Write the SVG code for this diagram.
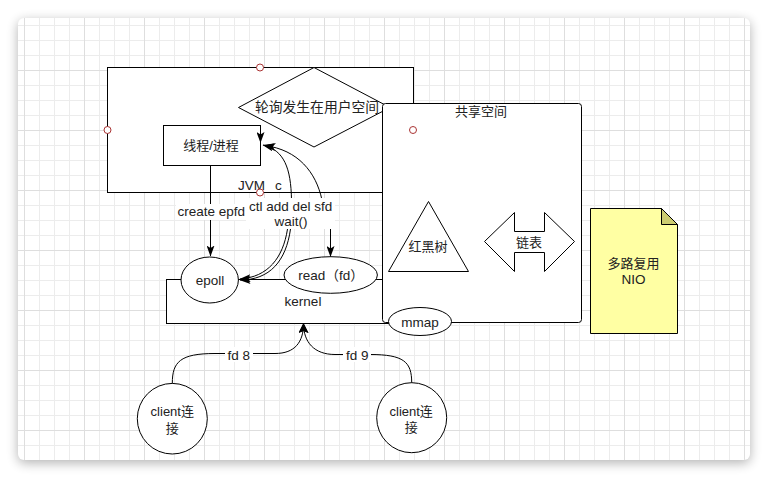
<svg xmlns="http://www.w3.org/2000/svg" width="768" height="477" viewBox="0 0 768 477">
<style>
.ln{fill:none;stroke:#000;stroke-width:1}
.sh{fill:#fff;stroke:#000;stroke-width:1}
.t{font-family:"Liberation Sans","Noto Sans CJK SC",sans-serif;font-size:13px;fill:#222;text-anchor:middle}
.l{font-size:13.5px}
.hd{fill:#fff;stroke:#a33;stroke-width:1}
.bg{fill:#fff;stroke:none}
</style>
<defs>
<pattern id="grid" patternUnits="userSpaceOnUse" x="24" y="10" width="60" height="60">
<path d="M15.5 0V60M30.5 0V60M45.5 0V60M0 15.5H60M0 30.5H60M0 45.5H60" stroke="#ececec" fill="none"/>
<path d="M0.5 0V60M0 0.5H60" stroke="#dedede" fill="none"/>
</pattern>
<filter id="blur" x="-10%" y="-10%" width="120%" height="125%">
<feGaussianBlur stdDeviation="6"/>
</filter>
<marker id="arr" viewBox="0 0 11 8" refX="10.5" refY="4" markerWidth="11" markerHeight="8" markerUnits="userSpaceOnUse" orient="auto">
<path d="M0,0 L11,4 L0,8 L2.5,4 Z" fill="#000"/>
</marker>
<marker id="arr2" viewBox="0 0 10 10" refX="9.5" refY="5" markerWidth="10" markerHeight="10" markerUnits="userSpaceOnUse" orient="auto">
<path d="M0,0 L10,5 L0,10 L2,5 Z" fill="#000"/>
</marker>
</defs>
<rect width="768" height="477" fill="#fff"/>
<rect x="18" y="21" width="732" height="442" rx="6" fill="#000" opacity="0.3" filter="url(#blur)"/>
<rect x="18" y="18" width="732" height="442" rx="6" fill="#fff"/>
<rect x="18" y="18" width="732" height="442" rx="6" fill="url(#grid)"/>

<g id="jvm">
<rect class="sh" x="107.5" y="67.5" width="306" height="125"/>
<text class="t l" x="238" y="190" style="text-anchor:start">JVM <tspan x="275">c</tspan></text>
</g>
<g id="polling">
<polygon class="sh" points="314,67.5 390,107.5 314,147 238.5,107.5"/>
<text class="t" x="317" y="112" style="font-size:13.8px">轮询发生在用户空间</text>
</g>
<g id="thread">
<rect class="sh" x="163.5" y="125.5" width="97" height="40"/>
<text class="t" x="211" y="150">线程/进程</text>
</g>
<g id="kernel">
<rect class="sh" x="166.5" y="279.5" width="230" height="44"/>
<text class="t l" x="303" y="306">kernel</text>
</g>
<g id="epoll">
<ellipse class="sh" cx="209.7" cy="280" rx="28.7" ry="23"/>
<text class="t l" x="210" y="284.5">epoll</text>
</g>
<g id="read">
<ellipse class="sh" cx="330.7" cy="275" rx="46.7" ry="18.3"/>
<text class="t l" x="331" y="280">read（fd）</text>
</g>
<g id="shared">
<rect class="sh" x="382.5" y="103.5" width="199" height="219" rx="3"/>
<text class="t" x="481" y="115.5">共享空间</text>
</g>
<g id="rbtree">
<polygon class="sh" points="428.5,201.5 468.5,271.5 388.5,271.5"/>
<text class="t" x="428" y="250.5">红黑树</text>
</g>
<g id="list">
<polygon class="sh" points="484.5,241.5 514.5,212.5 514.5,231.5 544.5,231.5 544.5,212.5 574.5,241.5 544.5,271.5 544.5,252.5 514.5,252.5 514.5,271.5"/>
<text class="t" x="529" y="247">链表</text>
</g>
<g id="mmap">
<ellipse class="sh" cx="420" cy="321.5" rx="31.5" ry="14"/>
<text class="t l" x="420" y="327">mmap</text>
</g>
<g id="note">
<path d="M590.5,208.5 H661.5 L677.5,224.5 V333.5 H590.5 Z" fill="#ffffa3" stroke="#000"/>
<path d="M661.5,208.5 V224.5 H677.5 Z" fill="#cccc70" stroke="#000"/>
<text class="t" x="633.5" y="267.5">多路复用</text>
<text class="t l" x="633.5" y="283.5">NIO</text>
</g>
<g id="client1">
<ellipse class="sh" cx="172.3" cy="418.7" rx="35" ry="35.3"/>
<text class="t" x="172.3" y="416">client连</text>
<text class="t" x="172.3" y="433">接</text>
</g>
<g id="client2">
<ellipse class="sh" cx="411.7" cy="417.7" rx="35" ry="35"/>
<text class="t" x="411.2" y="415.5">client连</text>
<text class="t" x="411.2" y="432">接</text>
</g>

<g id="connectors">
<path class="ln" d="M210.5,166 V256" marker-end="url(#arr)"/>
<rect class="bg" x="176" y="204" width="71" height="16"/>
<text class="t l" x="211.3" y="216">create epfd</text>

<path class="ln" d="M291.5,200 C291,168 284,150 263,145" marker-end="url(#arr)"/>
<path class="ln" d="M322,200 C316,172 298,150 265,145.5" marker-end="url(#arr)"/>
<path class="ln" d="M260.5,125 V142.5" marker-end="url(#arr)"/>
<path class="ln" d="M287.5,229 C283,258 268,277 240,279" marker-end="url(#arr)"/>
<path class="ln" d="M290.5,229 C286,261 270,280 240,280" marker-end="url(#arr)"/>
<path class="ln" d="M330.5,229 V256.5" marker-end="url(#arr)"/>
<rect class="bg" x="246" y="198" width="89" height="31"/>
<text class="t l" x="290.7" y="211">ctl add del sfd</text>
<text class="t l" x="291" y="226">wait()</text>

<path class="ln" d="M172.3,383.4 C172.3,362 180,353.5 215,353.5 L275,353.5 C295,353.5 303.5,342 303.5,323.5" marker-end="url(#arr2)"/>
<path class="ln" d="M411.7,382.7 C411.7,362 404,354.5 370,354.5 L335,354.5 C314,354.5 303.5,342 303.5,323.5" marker-end="url(#arr2)"/>
<rect class="bg" x="225" y="347" width="28" height="15"/>
<text class="t l" x="238.7" y="359.5">fd 8</text>
<rect class="bg" x="343" y="347" width="28" height="15"/>
<text class="t l" x="357.3" y="359.5">fd 9</text>
</g>

<g id="handles">
<circle class="hd" cx="260" cy="67.5" r="3.5"/>
<circle class="hd" cx="107.5" cy="130" r="3.5"/>
<circle class="hd" cx="260" cy="192.5" r="3.5"/>
<circle class="hd" cx="413" cy="130" r="3.5"/>
</g>
</svg>
